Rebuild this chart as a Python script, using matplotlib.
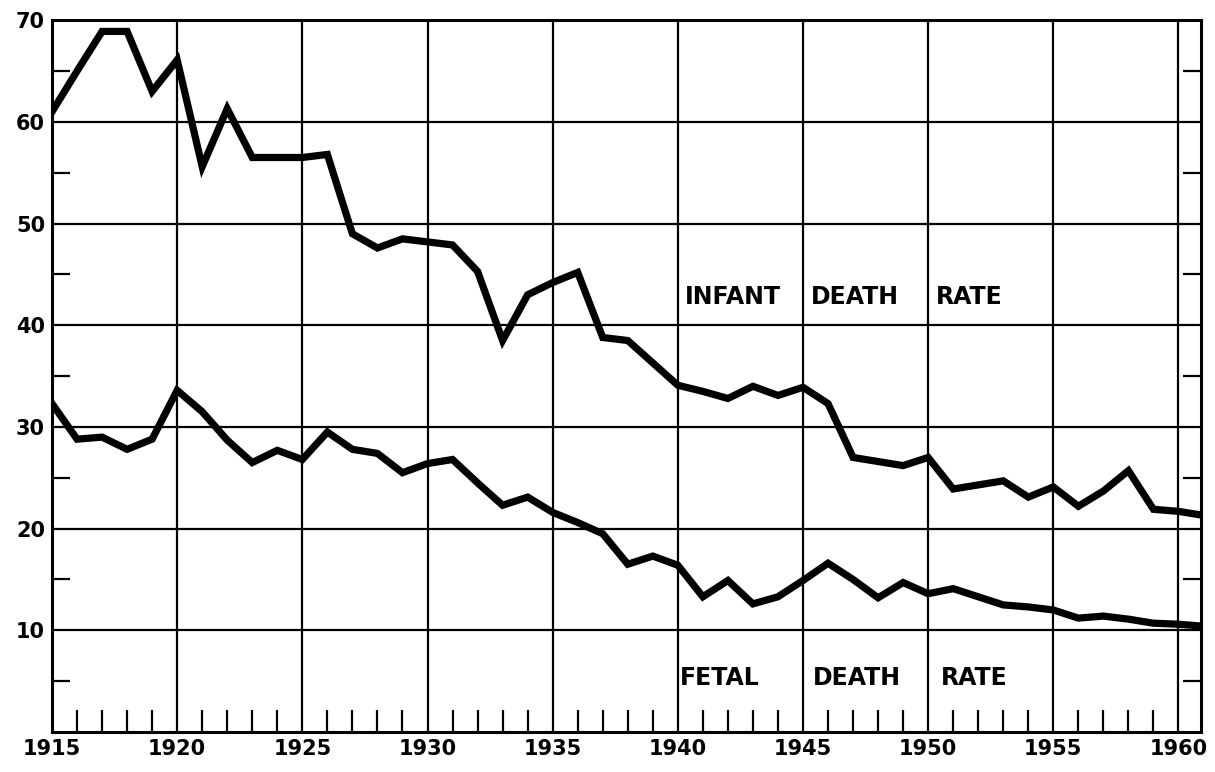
import numpy as np
import matplotlib
matplotlib.use("Agg")
import matplotlib.pyplot as plt

# yearly rates (per 1,000)
years = list(range(1915, 1962))

infant_rate = [61.0, 65.0, 68.9, 68.9, 63.0, 66.1, 55.6, 61.3, 56.5, 56.5,
               56.5, 56.8, 49.0, 47.6, 48.5, 48.2, 47.9, 45.3, 38.5, 43.0,
               44.2, 45.2, 38.8, 38.5, 36.3, 34.1, 33.5, 32.8, 34.0, 33.1,
               33.9, 32.3, 27.0, 26.6, 26.2, 27.0, 23.9, 24.3, 24.7, 23.1,
               24.1, 22.2, 23.7, 25.7, 21.9, 21.7, 21.3]

fetal_rate = [32.3, 28.8, 29.0, 27.8, 28.8, 33.6, 31.5, 28.7, 26.5, 27.7,
              26.8, 29.5, 27.8, 27.4, 25.5, 26.4, 26.8, 24.5, 22.3, 23.1,
              21.6, 20.6, 19.5, 16.5, 17.3, 16.4, 13.3, 14.9, 12.6, 13.3,
              14.9, 16.6, 15.0, 13.2, 14.7, 13.6, 14.1, 13.3, 12.5, 12.3,
              12.0, 11.2, 11.4, 11.1, 10.7, 10.6, 10.4]

major_years = list(range(1915, 1961, 5))
minor_years = [y for y in range(1916, 1961) if y % 5 != 0]
y_major = list(range(10, 71, 10))
y_minor = list(range(5, 70, 10))

fig = plt.figure(figsize=(12.15, 7.72), dpi=100)
ax = fig.add_axes([0.0428, 0.0518, 0.9457, 0.922])

ax.plot(years, infant_rate, color="black", lw=5.2, solid_joinstyle="miter")
ax.plot(years, fetal_rate, color="black", lw=5.2, solid_joinstyle="miter")

ax.set_xlim(1915, 1960.9)
ax.set_ylim(0, 70)

ax.set_xticks(major_years)
ax.set_xticks(minor_years, minor=True)
ax.set_yticks(y_major)
ax.set_yticks(y_minor, minor=True)

ax.grid(which="major", color="black", lw=1.6)
ax.set_axisbelow(True)

lab_font = dict(fontsize=15, fontweight="bold", family="DejaVu Sans")
ax.set_xticklabels([str(y) for y in major_years], **lab_font)
ax.set_yticklabels([str(v) for v in y_major], **lab_font)

ax.tick_params(axis="both", which="major", length=0, pad=5)
ax.tick_params(axis="x", which="minor", direction="in", length=16, width=1.6,
               bottom=True, top=False)
ax.tick_params(axis="y", which="minor", direction="in", length=13, width=1.6,
               left=True, right=True)

for s in ax.spines.values():
    s.set_linewidth(2.2)

txt = dict(fontsize=17, fontweight="bold", family="DejaVu Sans Condensed",
           va="center", ha="left")
for word, x in zip(["INFANT", "DEATH", "RATE"], [1940.3, 1945.3, 1950.3]):
    ax.text(x, 42.8, word, **txt)
for word, x in zip(["FETAL", "DEATH", "RATE"], [1940.1, 1945.4, 1950.5]):
    ax.text(x, 5.3, word, **txt)

fig.savefig("out.png", dpi=100)
